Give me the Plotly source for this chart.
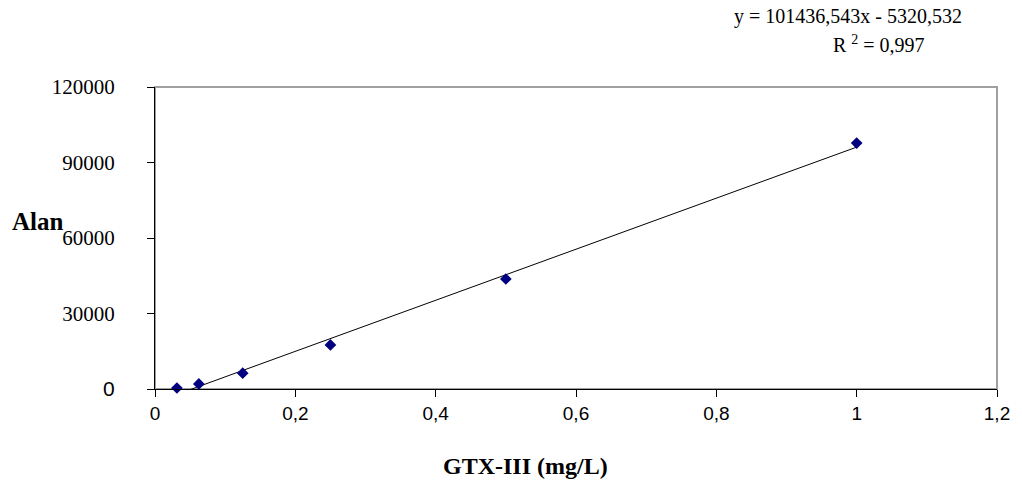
import plotly.graph_objects as go

# Data
conc = [0.03125, 0.0625, 0.125, 0.25, 0.5, 1.0]
area = [400, 2000, 6300, 17500, 43700, 97700]

slope = 101436.543
intercept = -5320.532
trend_x = [0.03125, 1.0]
trend_y = [slope * v + intercept for v in trend_x]

x_tickvals = [0, 0.2, 0.4, 0.6, 0.8, 1.0, 1.2]
x_ticktext = ["0", "0,2", "0,4", "0,6", "0,8", "1", "1,2"]
y_tickvals = [0, 30000, 60000, 90000, 120000]
y_ticktext = ['<span style="font-family:Liberation Sans, Arial">0</span>',
              "30000", "60000", "90000", "120000"]

fig = go.Figure()
fig.add_trace(go.Scatter(x=trend_x, y=trend_y, mode="lines",
                         line=dict(color="black", width=1), hoverinfo="skip"))
fig.add_trace(go.Scatter(x=conc, y=area, mode="markers",
                         marker=dict(symbol="diamond", color="#000080", size=9,
                                     line=dict(width=0)),
                         cliponaxis=False))

fig.update_layout(
    width=1022, height=484,
    margin=dict(l=155, r=20, t=87, b=95),
    paper_bgcolor="white", plot_bgcolor="white",
    showlegend=False,
    shapes=[dict(type="rect", xref="paper", yref="paper", x0=0, x1=1, y0=0, y1=1,
                 line=dict(color="#a0a0a0", width=2), layer="below")],
    annotations=[
        dict(text="<b>Alan</b>", xref="paper", yref="paper", x=(9 - 155) / 847, y=(389 - 222) / 302,
             xanchor="left", yanchor="middle", showarrow=False,
             font=dict(family="Liberation Serif, Times New Roman", size=25, color="black")),
        dict(text="<b>GTX-III (mg/L)</b>", xref="paper", yref="paper", x=(528 - 155) / 847,
             y=-(466 - 389) / 302,
             xanchor="center", yanchor="middle", showarrow=False,
             font=dict(family="Liberation Serif, Times New Roman", size=24, color="black")),
        dict(text="y = 101436,543x - 5320,532", xref="paper", yref="paper",
             x=(852 - 155) / 847, y=1 + (87 - 16) / 302, xanchor="center", yanchor="middle",
             showarrow=False,
             font=dict(family="Liberation Serif, Times New Roman", size=20, color="black")),
        dict(text="R <sup>2</sup> = 0,997", xref="paper", yref="paper",
             x=(932 - 155) / 847, y=1 + (87 - 44) / 302, xanchor="right", yanchor="middle",
             showarrow=False,
             font=dict(family="Liberation Serif, Times New Roman", size=20, color="black")),
    ],
)

fig.update_xaxes(range=[0, 1.2], tickvals=x_tickvals, ticktext=x_ticktext,
                 showgrid=False, zeroline=False, showline=True, linecolor="black",
                 linewidth=1, ticks="outside", ticklen=7, tickcolor="black",
                 tickfont=dict(family="Liberation Sans, Arial", size=19, color="black"))
fig.update_yaxes(range=[0, 120000], tickvals=y_tickvals, ticktext=y_ticktext,
                 showgrid=False, zeroline=False, showline=True, linecolor="black",
                 linewidth=1, ticks="outside", ticklen=7, tickcolor="black",
                 ticklabelstandoff=28,
                 tickfont=dict(family="Liberation Serif, Times New Roman", size=21, color="black"))

fig.write_html("out.html")
